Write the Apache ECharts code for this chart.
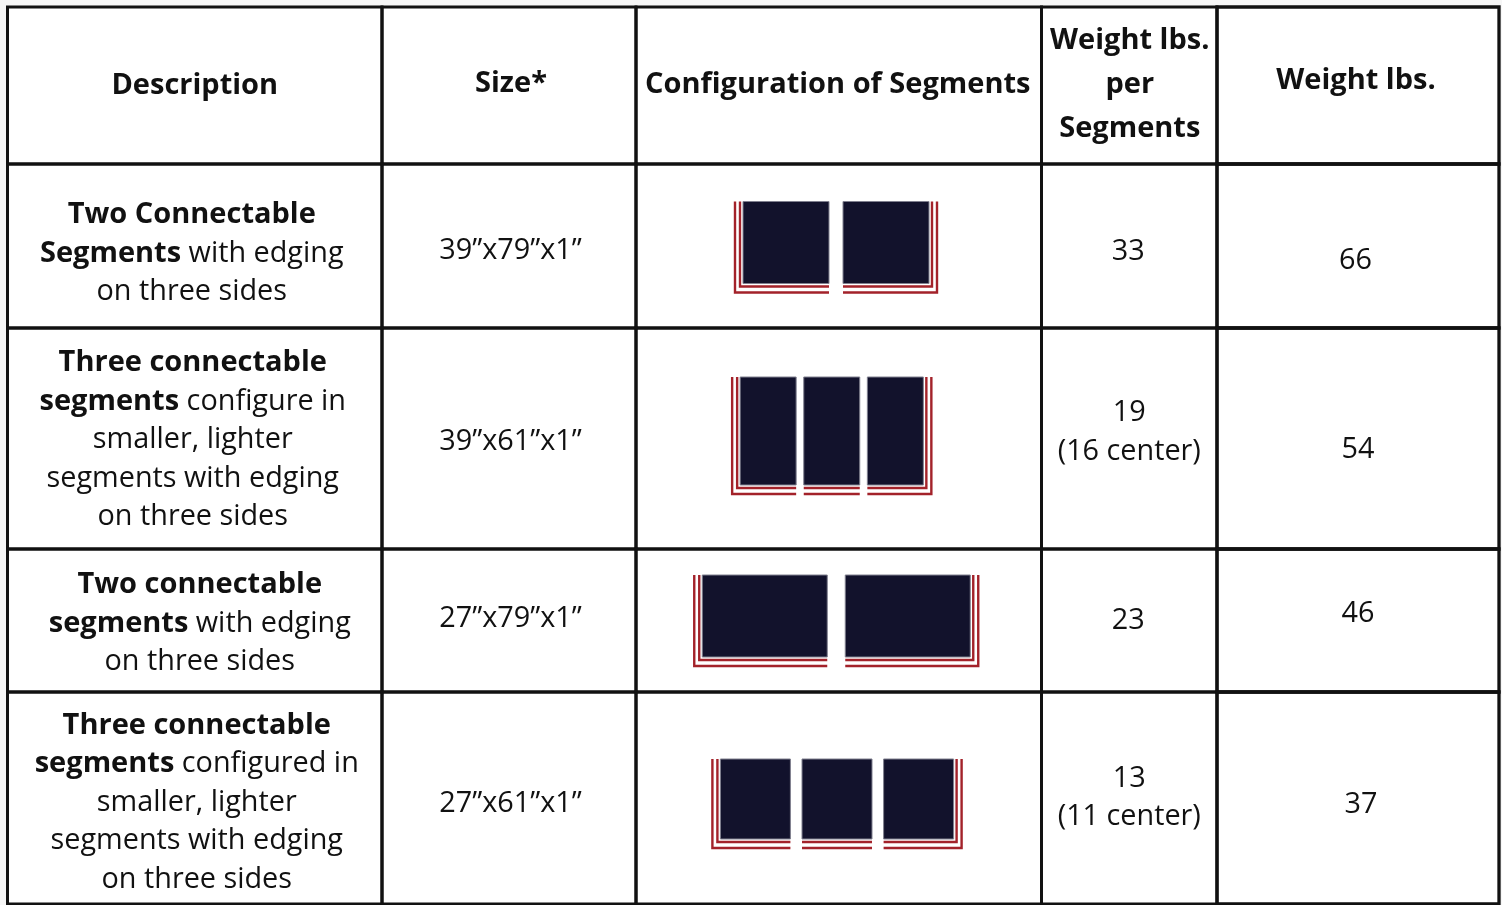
<!DOCTYPE html>
<html><head><meta charset="utf-8">
<script src="https://cdn.jsdelivr.net/npm/echarts@6/dist/echarts.min.js"></script>
<style>html,body{margin:0;padding:0;background:#f6f6f6}#c{width:1502px;height:905px}</style>
</head><body><div id="c"></div>
<script>
// ---- data ----
const headers = ['Description', 'Size*', 'Configuration of Segments', 'Weight lbs.\nper\nSegments', 'Weight lbs.'];
const descriptions = [
  '{b|Two Connectable}\n{b|Segments}{r| with edging}\n{r|on three sides}',
  '{b|Three connectable}\n{b|segments}{r| configure in}\n{r|smaller, lighter}\n{r|segments with edging}\n{r|on three sides}',
  '{b|Two connectable}\n{b|segments}{r| with edging}\n{r|on three sides}',
  '{b|Three connectable}\n{b|segments}{r| configured in}\n{r|smaller, lighter}\n{r|segments with edging}\n{r|on three sides}'
];
const sizes = ['39”x79”x1”', '39”x61”x1”', '27”x79”x1”', '27”x61”x1”'];
const segmentCounts = [2, 3, 2, 3];
const weightPerSegment = [33, 19, 23, 13];
const centerSegmentWeight = [null, 16, null, 11];
const totalWeight = [66, 54, 46, 37];

// ---- layout (not data) ----
const colWidths = [374.5, 254, 405.5, 175.5, 282];
const rowHeights = [157, 164, 221, 143, 212];
const TEXT_DY = 2;
const textShift = [
  [[0, -1.5], [2, -3.5], [-1, -2.5], [0.5, -2.5], [-2, -6.5]],
  [[-3, 5.5], [1.5, 3], [0, 0], [-1, 4], [-2.5, 13]],
  [[-2, -0.5], [1.5, 1.5], [0, 0], [0, -8], [0, 9.5]],
  [[5, 1], [1.5, -3.5], [0, 0], [-1, -1.5], [0, -8.5]],
  [[2, 2.5], [1.5, 4], [0, 0], [0, -2], [3, 5]]
];
const diagramLayout = [
  { w: 86, h: 82, gap: 14, dx: -2.75, dy: -3.5 },
  { w: 56, h: 108, gap: 7.6, dx: -7, dy: -7.5 },
  { w: 125, h: 82, gap: 18, dx: -2.5, dy: -4.5 },
  { w: 70, h: 80, gap: 11.6, dx: -1.75, dy: 1 }
];
const FONT = 'Open Sans';
const BOLD_SIZE = 29;
const REG_SIZE = 28.8;
const INK = '#111111';
const NAVY = '#12122c';
const RED = '#a3222a';

const sumW = colWidths.reduce((a, b) => a + b, 0);
const sumH = rowHeights.reduce((a, b) => a + b, 0);
const cum = (arr, n) => arr.slice(0, n).reduce((a, b) => a + b, 0);

const cells = [];
for (let r = 0; r < rowHeights.length; r++) for (let c = 0; c < colWidths.length; c++) cells.push([c, r]);

const rich = {
  b: { fontFamily: FONT, fontSize: BOLD_SIZE, fontWeight: 'bold', lineHeight: 38.5, align: 'center', color: INK },
  r: { fontFamily: FONT, fontSize: REG_SIZE, fontWeight: 'normal', lineHeight: 38.5, align: 'center', color: INK }
};

function textEl(text, x, y, bold, lh, useRich) {
  const style = {
    text: text, x: x, y: y + TEXT_DY, align: 'center', verticalAlign: 'middle',
    fontFamily: FONT, fontSize: bold ? BOLD_SIZE : REG_SIZE, fontWeight: bold ? 'bold' : 'normal',
    lineHeight: lh, fill: INK
  };
  if (useRich) style.rich = rich;
  return { type: 'text', style: style };
}

function diagram(i, cx, cy) {
  const L = diagramLayout[i], n = segmentCounts[i];
  const W = n * L.w + (n - 1) * L.gap;
  const left = cx + L.dx - W / 2, top = cy + L.dy - L.h / 2, b = top + L.h;
  const els = [];
  for (let s = 0; s < n; s++) {
    const sx = left + s * (L.w + L.gap);
    els.push({ type: 'rect', shape: { x: sx, y: top, width: L.w, height: L.h },
      style: { fill: NAVY, stroke: '#80808f', lineWidth: 1 } });
    let inner, outer;
    if (s === 0) {
      inner = [[sx - 3, top], [sx - 3, b + 3], [sx + L.w, b + 3]];
      outer = [[sx - 8, top], [sx - 8, b + 9], [sx + L.w, b + 9]];
    } else if (s === n - 1) {
      inner = [[sx, b + 3], [sx + L.w + 3, b + 3], [sx + L.w + 3, top]];
      outer = [[sx, b + 9], [sx + L.w + 8, b + 9], [sx + L.w + 8, top]];
    } else {
      inner = [[sx, b + 3], [sx + L.w, b + 3]];
      outer = [[sx, b + 9], [sx + L.w, b + 9]];
    }
    [inner, outer].forEach(pts => els.push({ type: 'polyline', shape: { points: pts },
      style: { stroke: RED, lineWidth: 2.4, fill: null, lineJoin: 'miter', lineCap: 'butt' } }));
  }
  return els;
}

function renderItem(params, api) {
  const c = api.value(0), r = api.value(1);
  const x0 = cum(colWidths, c), y0 = cum(rowHeights, r);
  const p0 = api.coord([x0, y0]);
  const p1 = api.coord([x0 + colWidths[c], y0 + rowHeights[r]]);
  const cx = (p0[0] + p1[0]) / 2, cy = (p0[1] + p1[1]) / 2;
  const sh = textShift[r][c];
  const children = [{
    type: 'rect', shape: { x: p0[0], y: p0[1], width: p1[0] - p0[0], height: p1[1] - p0[1] },
    style: { fill: null, stroke: INK, lineWidth: c === colWidths.length - 1 ? 3.3 : 3 }
  }];
  if (r === 0) {
    children.push(textEl(headers[c], cx + sh[0], cy + sh[1], true, 44, false));
  } else {
    const i = r - 1;
    if (c === 0) children.push(textEl(descriptions[i], cx + sh[0], cy + sh[1], false, 38.5, true));
    else if (c === 1) children.push(textEl(sizes[i], cx + sh[0], cy + sh[1], false, 38.5, false));
    else if (c === 2) diagram(i, cx, cy).forEach(e => children.push(e));
    else if (c === 3) {
      const t = String(weightPerSegment[i]) + (centerSegmentWeight[i] != null ? '\n(' + centerSegmentWeight[i] + ' center)' : '');
      children.push(textEl(t, cx + sh[0], cy + sh[1], false, 38.5, false));
    } else children.push(textEl(String(totalWeight[i]), cx + sh[0], cy + sh[1], false, 38.5, false));
  }
  return { type: 'group', children: children };
}

const chart = echarts.init(document.getElementById('c'), null, { renderer: 'canvas' });
chart.setOption({
  backgroundColor: '#f6f6f6',
  animation: false,
  grid: { left: 7.5, top: 7, width: sumW, height: sumH, show: true, backgroundColor: '#ffffff', borderWidth: 0 },
  xAxis: { type: 'value', min: 0, max: sumW, show: false },
  yAxis: { type: 'value', min: 0, max: sumH, inverse: true, show: false },
  series: [{ type: 'custom', coordinateSystem: 'cartesian2d', data: cells, renderItem: renderItem, clip: false, silent: true }]
});
</script></body></html>
